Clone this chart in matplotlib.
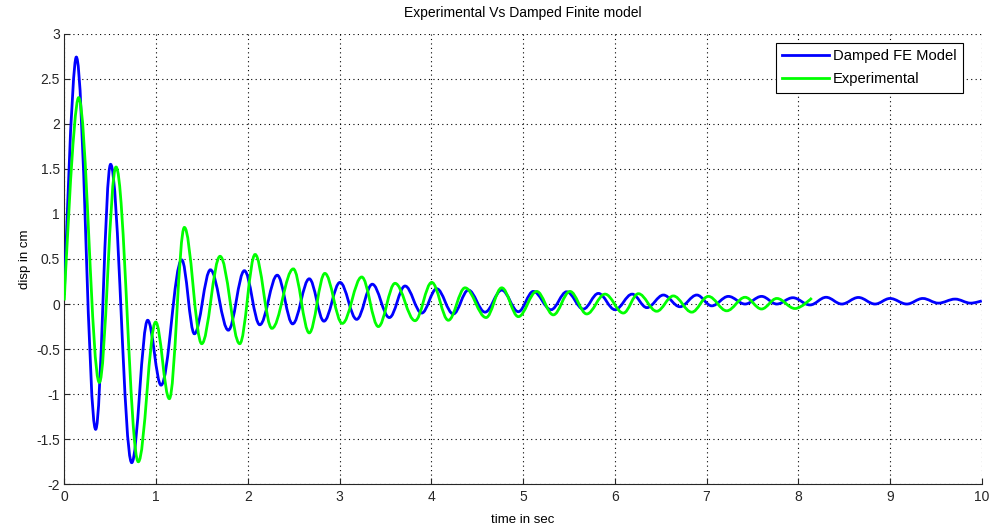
import numpy as np
import matplotlib.pyplot as plt
from matplotlib.path import Path
from matplotlib.patches import PathPatch
from matplotlib.lines import Line2D

plt.rcParams['font.family'] = ['Liberation Sans', 'DejaVu Sans']

# Damped FE model (blue) - peaks/troughs
t_fe = [0, 0.131, 0.342, 0.505, 0.735, 0.909, 1.055, 1.28, 1.418, 1.593,
        1.788, 1.963, 2.131, 2.321, 2.489, 2.67, 2.83, 3.005, 3.187, 3.357,
        3.543, 3.714, 3.896, 4.059, 4.24, 4.404, 4.586, 4.768, 4.949, 5.112,
        5.305, 5.476, 5.657, 5.821, 6.003, 6.19, 6.35, 6.53, 6.71, 6.894,
        7.057, 7.238, 7.42, 7.60, 7.766, 7.94, 8.128, 8.303, 8.474, 8.655,
        8.837, 9.0, 9.183, 9.357, 9.527, 9.709, 9.88, 10.0]
y_fe = [0.1, 2.74, -1.39, 1.55, -1.76, -0.18, -0.9, 0.49, -0.33, 0.38,
        -0.29, 0.37, -0.23, 0.32, -0.22, 0.28, -0.19, 0.24, -0.17, 0.22,
        -0.15, 0.20, -0.10, 0.17, -0.11, 0.155, -0.09, 0.155, -0.085, 0.14,
        -0.063, 0.136, -0.056, 0.118, -0.063, 0.11, -0.04, 0.10, -0.03, 0.10,
        -0.02, 0.085, 0.0, 0.085, 0.0, 0.07, -0.01, 0.075, 0.0, 0.073,
        0.0, 0.062, 0.0, 0.062, 0.01, 0.055, 0.01, 0.035]

# Experimental (green)
t_exp = [0, 0.156, 0.382, 0.564, 0.807, 0.996, 1.145, 1.309, 1.498, 1.698,
         1.912, 2.08, 2.263, 2.496, 2.67, 2.84, 3.03, 3.242, 3.423, 3.605,
         3.823, 4.005, 4.186, 4.368, 4.597, 4.768, 4.949, 5.149, 5.33, 5.512,
         5.694, 5.894, 6.093, 6.257, 6.457, 6.638, 6.839, 7.02, 7.22, 7.42,
         7.60, 7.766, 7.965, 8.147]
y_exp = [0.04, 2.29, -0.87, 1.52, -1.75, -0.2, -1.05, 0.85, -0.44, 0.53,
         -0.44, 0.55, -0.27, 0.39, -0.32, 0.34, -0.215, 0.30, -0.25, 0.23,
         -0.185, 0.24, -0.18, 0.18, -0.15, 0.18, -0.14, 0.14, -0.12, 0.14,
         -0.11, 0.11, -0.10, 0.115, -0.08, 0.09, -0.09, 0.085, -0.075, 0.075,
         -0.055, 0.062, -0.05, 0.067]


def wave_path(t, y):
    # smooth curve through the peaks: flat tangent at every turning point
    k = 0.364
    verts = [(t[0], y[0])]
    codes = [Path.MOVETO]
    n = len(t)
    for i in range(n - 1):
        dt = t[i + 1] - t[i]
        k0 = 0 if i == 0 else k
        k1 = 0 if i == n - 2 else k
        verts += [(t[i] + k0 * dt, y[i]), (t[i + 1] - k1 * dt, y[i + 1]), (t[i + 1], y[i + 1])]
        codes += [Path.CURVE4] * 3
    return Path(verts, codes)


fig = plt.figure(figsize=(9.89, 5.26), dpi=100)
ax = fig.add_axes([0.065, 0.0793, 0.9277, 0.8567])

ax.add_patch(PathPatch(wave_path(t_fe, y_fe), facecolor='none', edgecolor='#0000ff', lw=2, zorder=3))
ax.add_patch(PathPatch(wave_path(t_exp, y_exp), facecolor='none', edgecolor='#00ff00', lw=2, zorder=3))

ax.set_xlim(0, 10)
ax.set_ylim(-2, 3)
ax.set_xticks(np.arange(0, 11, 1))
ax.set_yticks(np.arange(-2, 3.5, 0.5))
ax.set_yticklabels(['-2', '-1.5', '-1', '-0.5', '0', '0.5', '1', '1.5', '2', '2.5', '3'])
ax.grid(True, color='black', linestyle=(0, (1, 3)), linewidth=0.8)
ax.spines['top'].set_visible(False)
ax.spines['right'].set_visible(False)
for s in ['left', 'bottom']:
    ax.spines[s].set_color('#262626')
ax.tick_params(direction='in', length=4, labelsize=10, colors='#262626', pad=3)
ax.tick_params(axis='x', pad=4)

ax.set_title('Experimental Vs Damped Finite model', fontsize=10, pad=12)
ax.set_xlabel('time in sec', fontsize=9.5, labelpad=7)
ax.set_ylabel('disp in cm', fontsize=9.5, labelpad=4)

handles = [Line2D([], [], color='#0000ff', lw=2), Line2D([], [], color='#00ff00', lw=2)]
leg = ax.legend(handles, ['Damped FE Model', 'Experimental'], loc='upper right',
                bbox_to_anchor=(0.98, 0.98), borderaxespad=0,
                fontsize=10.6, fancybox=False, framealpha=1, edgecolor='black',
                handlelength=3.2, handletextpad=0.25, borderpad=0.45, labelspacing=0.6)
leg.get_frame().set_linewidth(0.8)

fig.savefig('out.png', dpi=100)
